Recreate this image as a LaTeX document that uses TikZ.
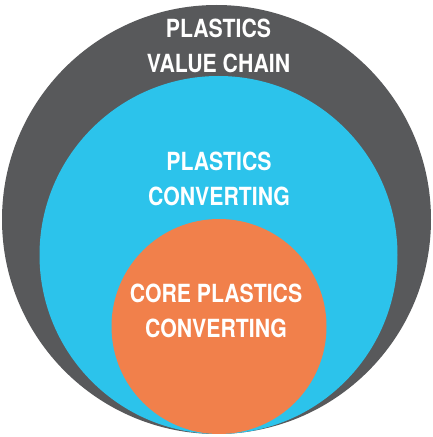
\documentclass[tikz,border=0pt]{standalone}
\usepackage{fontspec}
\usepackage[]{tikz}
\usetikzlibrary{positioning}
\usepackage[]{xcolor}
\newfontfamily\chainfont[FakeStretch=0.85]{TeX Gyre Heros}
\definecolor{chaingray}{HTML}{58595B}
\definecolor{chainblue}{HTML}{2CC3EB}
\definecolor{chainorange}{HTML}{F1804B}
\tikzstyle{ring} = [circle, inner sep=0pt, draw=none]
\tikzset{
	label/.style={text=white, inner sep=0pt, align=center, font=\chainfont\bfseries\fontsize{25}{35}\selectfont}
	}

\begin{document}
\begin{tikzpicture}[x=1pt, y=1pt]
	\useasboundingbox (0,0) rectangle (432,437);
	\node [ring, fill=chaingray, minimum size=429pt] (valuechain) at (216.5,217.5) {};
	\node [ring, fill=chainblue, minimum size=358pt] (converting) at (218.5,182) {};
	\node [ring, fill=chainorange, minimum size=215pt] (core) at (219,110.5) {};
	
	\node [label, below=14pt of valuechain.north, xshift=2pt] (valuechaintext) {PLASTICS\\VALUE CHAIN};
	\node [label, below=75.5pt of converting.north, xshift=0.5pt] (convertingtext) {PLASTICS\\CONVERTING};
	\node [label, below=65pt of core.north, xshift=-3pt] (coretext) {CORE PLASTICS\\CONVERTING};
\end{tikzpicture}
\end{document}
